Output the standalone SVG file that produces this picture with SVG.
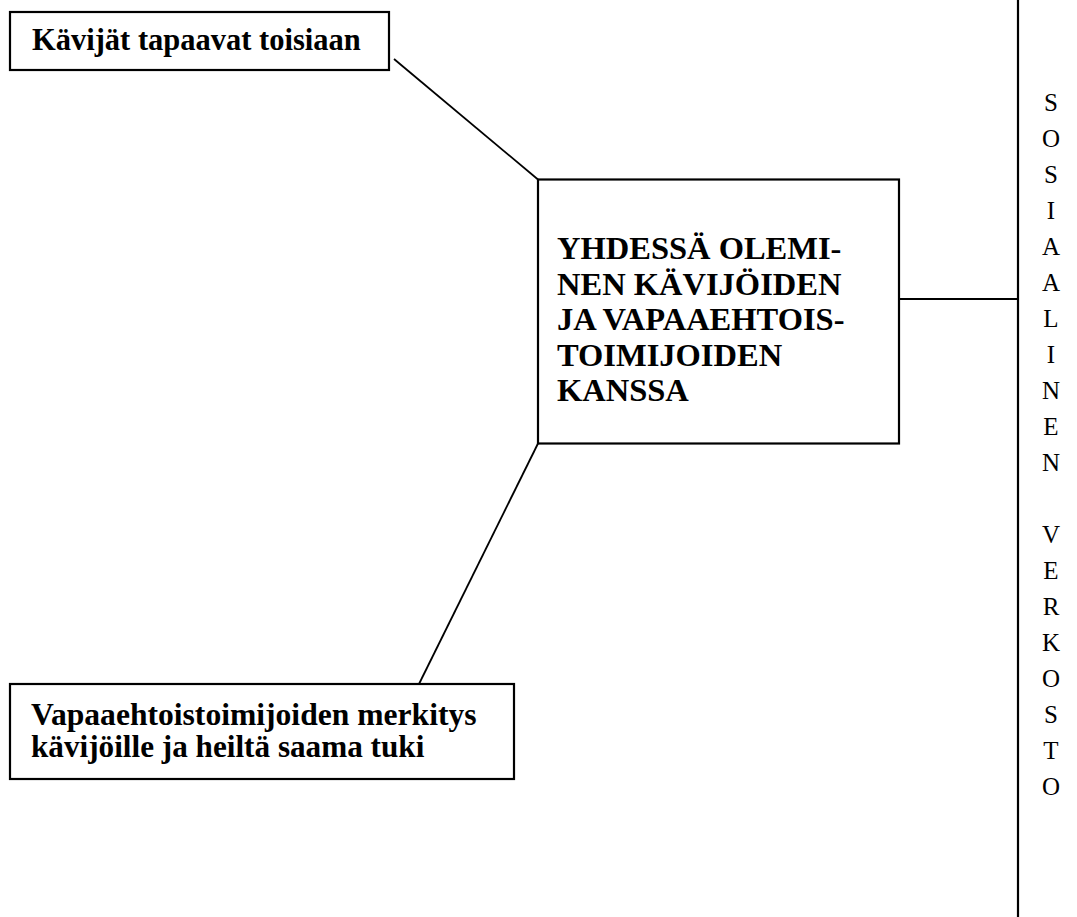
<svg xmlns="http://www.w3.org/2000/svg" width="1077" height="917" viewBox="0 0 1077 917">
<style>
.box{fill:#fff;stroke:#000;stroke-width:2.2}
.con{stroke:#000;stroke-width:1.8;fill:none}
.t{font-family:"Liberation Serif",serif;font-weight:bold;fill:#000}
.v{font-family:"Liberation Serif",serif;font-size:25px;fill:#000;text-anchor:middle}
</style>
<rect width="1077" height="917" fill="#fff"/>
<g id="connectors">
<line class="con" x1="394" y1="59" x2="538" y2="179.5"/>
<line class="con" x1="538" y1="443.5" x2="419" y2="684"/>
<line class="con" x1="899" y1="299" x2="1018" y2="299"/>
<line class="con" x1="1018" y1="0" x2="1018" y2="917" style="stroke-width:2.2"/>
</g>
<g id="node-top">
<rect class="box" x="10" y="12" width="379" height="58"/>
<text class="t" x="32" y="50" font-size="30.5">Kävijät tapaavat toisiaan</text>
</g>
<g id="node-center">
<rect class="box" x="538" y="179.5" width="361" height="264"/>
<text class="t" x="557" y="259" font-size="32.5">YHDESSÄ OLEMI-</text>
<text class="t" x="557" y="294.5" font-size="32.5">NEN KÄVIJÖIDEN</text>
<text class="t" x="557" y="330" font-size="32.5">JA VAPAAEHTOIS-</text>
<text class="t" x="557" y="365.5" font-size="32.5">TOIMIJOIDEN</text>
<text class="t" x="557" y="401" font-size="32.5">KANSSA</text>
</g>
<g id="node-bottom">
<rect class="box" x="10" y="684" width="504" height="95"/>
<text class="t" x="31" y="725" font-size="31.6">Vapaaehtoistoimijoiden merkitys</text>
<text class="t" x="31" y="757" font-size="31.2">kävijöille ja heiltä saama tuki</text>
</g>
<g id="node-network">
<text class="v" x="1051" y="110.7">S</text>
<text class="v" x="1051" y="146.7">O</text>
<text class="v" x="1051" y="182.7">S</text>
<text class="v" x="1051" y="218.7">I</text>
<text class="v" x="1051" y="254.7">A</text>
<text class="v" x="1051" y="290.7">A</text>
<text class="v" x="1051" y="326.7">L</text>
<text class="v" x="1051" y="362.7">I</text>
<text class="v" x="1051" y="398.7">N</text>
<text class="v" x="1051" y="434.7">E</text>
<text class="v" x="1051" y="470.7">N</text>
<text class="v" x="1051" y="542.7">V</text>
<text class="v" x="1051" y="578.7">E</text>
<text class="v" x="1051" y="614.7">R</text>
<text class="v" x="1051" y="650.7">K</text>
<text class="v" x="1051" y="686.7">O</text>
<text class="v" x="1051" y="722.7">S</text>
<text class="v" x="1051" y="758.7">T</text>
<text class="v" x="1051" y="794.7">O</text>
</g>
</svg>
